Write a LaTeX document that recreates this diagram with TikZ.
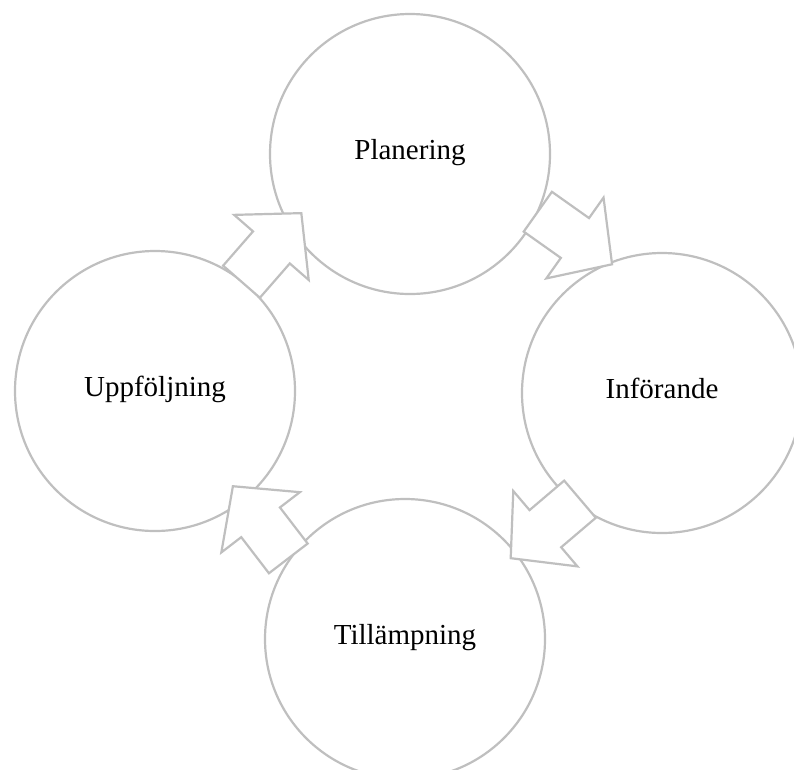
\documentclass[tikz,border=0pt]{standalone}
\usepackage{fontspec}
\setmainfont{Liberation Serif}
\definecolor{ringgray}{RGB}{191,191,191}
\tikzset{
  ring/.style={circle, draw=ringgray, line width=2.2pt, fill=white,
    minimum size=280pt, inner sep=0pt, text height=15pt, text depth=5pt,
    font=\fontsize{29}{34}\selectfont, text=black},
  arrowline/.style={draw=ringgray, line width=2.2pt, fill=white, line join=miter},
  blockarrow/.pic={
    \path[arrowline] (0,24.4) -- (45.5,24.4) -- (45.5,49.5) -- (91,0)
      -- (45.5,-49.5) -- (45.5,-24.4) -- (0,-24.4) -- cycle;
  }
}
\begin{document}
\begin{tikzpicture}[x=1pt, y=-1pt]
  \useasboundingbox (0,0) rectangle (794,769);
  \clip (0,0) rectangle (794,769);
  \node[ring] (P) at (410,154) {Planering};
  \node[ring] (I) at (662,393) {Införande};
  \node[ring] (T) at (405,639) {Tillämpning};
  \node[ring] (U) at (155,391) {Uppföljning};
  \pic (a1) [rotate=48.9]  at (241.5,281.7) {blockarrow};
  \pic (a2) [rotate=-35.3] at (537.8,211.7) {blockarrow};
  \pic (a3) [rotate=220.4] at (580,499.2)   {blockarrow};
  \pic (a4) [rotate=127.5] at (288.3,558.4) {blockarrow};
\end{tikzpicture}
\end{document}
